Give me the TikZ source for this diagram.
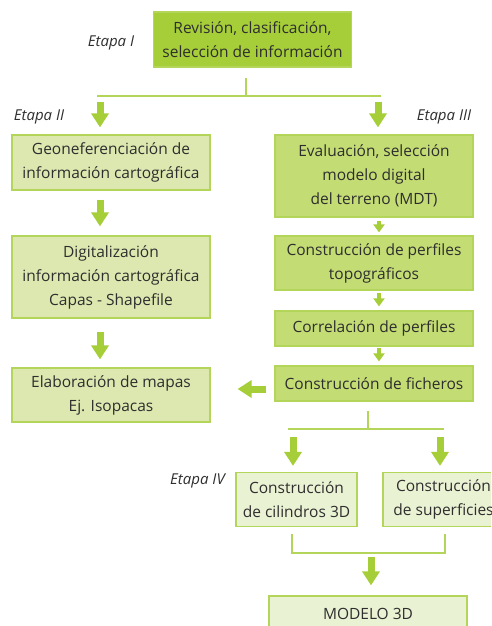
\documentclass[tikz,border=0pt]{standalone}
\usepackage{fontspec}
\setmainfont{Open Sans}
\usetikzlibrary{positioning}
\usetikzlibrary{arrows.meta}
\tikzset{
  font={\fontsize{15.5pt}{24pt}\selectfont}
}
\definecolor{stageGreen}{HTML}{A6CE39}
\definecolor{lineGreen}{HTML}{B3D65A}
\definecolor{fillDark}{HTML}{C4DC74}
\definecolor{fillLight}{HTML}{DCE8B0}
\definecolor{fillPale}{HTML}{EAF2D4}
\definecolor{textGray}{HTML}{2E2E2E}
\def\boxWidth{198}
\def\smallWidth{121}
\tikzstyle{stepbox}=[rectangle,draw=lineGreen,line width=1.2pt,text=textGray,align=center,inner sep=0pt,minimum width=\boxWidth pt]
\tikzstyle{smallbox}=[stepbox,fill=fillPale,minimum width=\smallWidth pt,minimum height=54pt]
\tikzstyle{etapa}=[font={\fontsize{15pt}{17pt}\itshape\selectfont},text=textGray,inner sep=0pt]
\tikzstyle{branch}=[draw=lineGreen,line width=1.3pt]
\tikzstyle{bigarrow}=[-{Triangle[width=17pt,length=14pt]},line width=7pt,draw=stageGreen,fill=stageGreen]
\tikzstyle{smallarrow}=[-{Triangle[width=11pt,length=8pt]},line width=4pt,draw=stageGreen,fill=stageGreen]

\begin{document}
\begin{tikzpicture}[x=1pt,y=-1pt]
    \clip (0,0) rectangle (491,626);

    % Etapa I
    \node[stepbox,fill=stageGreen,minimum height=55pt] (rev) at (252.5,39.5) {Revisión, clasificación,\\selección de información};
    \node[etapa] (etapa-1) at (111,43) {Etapa I};

    % Etapa II
    \node[stepbox,fill=fillLight,minimum height=55pt] (geo) at (111,162.5) {Geoneferenciación de\\información cartográfica};
    \node[stepbox,fill=fillLight,minimum height=82pt] (digit) at (111,277) {Digitalización\\información cartográfica\\Capas - Shapefile};
    \node[stepbox,fill=fillLight,minimum height=54pt] (elab) at (111,395) {Elaboración de mapas\\Ej. Isopacas};
    \node[etapa] (etapa-2) at (39,117) {Etapa II};

    % Etapa III
    \node[stepbox,fill=fillDark,minimum height=82pt] (eval) at (374,176) {Evaluación, selección\\modelo digital\\del terreno (MDT)};
    \node[stepbox,fill=fillDark,minimum height=54pt] (perf) at (374,263) {Construcción de perfiles\\topográficos};
    \node[stepbox,fill=fillDark,minimum height=35pt] (corr) at (374,328.5) {Correlación de perfiles};
    \node[stepbox,fill=fillDark,minimum height=35pt] (fich) at (374,383.5) {Construcción de ficheros};
    \node[etapa] (etapa-3) at (444,117) {Etapa III};

    % Etapa IV
    \node[smallbox] (cil) at (296.5,499.5) {Construcción\\de cilindros 3D};
    \node[smallbox] (sup) at (443.5,499.5) {Construcción\\de superficies};
    \node[stepbox,fill=fillPale,minimum height=35pt] (model) at (368,613.5) {MODELO 3D};
    \node[etapa] (etapa-4) at (197.5,481) {Etapa IV};

    % fork below stage I
    \coordinate (fork1) at (246,96);
    \coordinate (fork1-l) at (97,96);
    \coordinate (fork1-r) at (381,96);
    \coordinate (fork1-a) at (100,96);
    \coordinate (fork1-b) at (378,96);
    \draw[branch,shorten <=10pt] (fork1 |- rev.south) -- (fork1);
    \draw[branch] (fork1-l) -- (fork1-r);
    \draw[bigarrow,shorten <=6pt,shorten >=7pt] (fork1-a) -- (fork1-a |- geo.north);
    \draw[bigarrow,shorten <=6pt,shorten >=7pt] (fork1-b) -- (fork1-b |- eval.north);

    % left column
    \draw[bigarrow,shorten <=9pt,shorten >=9pt] ([xshift=-11pt]geo.south) -- ([xshift=-11pt]digit.north);
    \draw[bigarrow,shorten <=13pt,shorten >=8pt] ([xshift=-11pt]digit.south) -- ([xshift=-11pt]elab.north);

    % right column
    \draw[smallarrow,shorten <=3pt,shorten >=3pt] ([xshift=5pt]eval.south) -- ([xshift=5pt]perf.north);
    \draw[smallarrow,shorten <=2pt,shorten >=4pt] ([xshift=5pt]perf.south) -- ([xshift=5pt]corr.north);
    \draw[smallarrow,shorten <=1pt,shorten >=4pt] ([xshift=5pt]corr.south) -- ([xshift=5pt]fich.north);
    \coordinate (fich-out) at ([yshift=-5.5pt]fich.west);
    \draw[bigarrow,shorten <=8pt,shorten >=27pt] (fich-out) -- (elab.east |- fich-out);

    % fork below ficheros
    \coordinate (fork2) at (368,429);
    \coordinate (fork2-l) at (288,429);
    \coordinate (fork2-r) at (444,429);
    \coordinate (fork2-a) at (293,429);
    \coordinate (fork2-b) at (440,429);
    \draw[branch,shorten <=9pt] (fork2 |- fich.south) -- (fork2);
    \draw[branch] (fork2-l) -- (fork2-r);
    \draw[bigarrow,shorten <=8pt,shorten >=6pt] (fork2-a) -- (fork2-a |- cil.north);
    \draw[bigarrow,shorten <=8pt,shorten >=6pt] (fork2-b) -- (fork2-b |- sup.north);

    % join into the 3D model
    \coordinate (join-lt) at (292,534);
    \coordinate (join-l) at (292,553);
    \coordinate (join-r) at (445,553);
    \coordinate (join-rt) at (445,534);
    \coordinate (join-m) at (371,553);
    \draw[branch] (join-lt) -- (join-l) -- (join-r) -- (join-rt);
    \draw[bigarrow,shorten <=4pt,shorten >=10pt] (join-m) -- (join-m |- model.north);
\end{tikzpicture}
\end{document}
